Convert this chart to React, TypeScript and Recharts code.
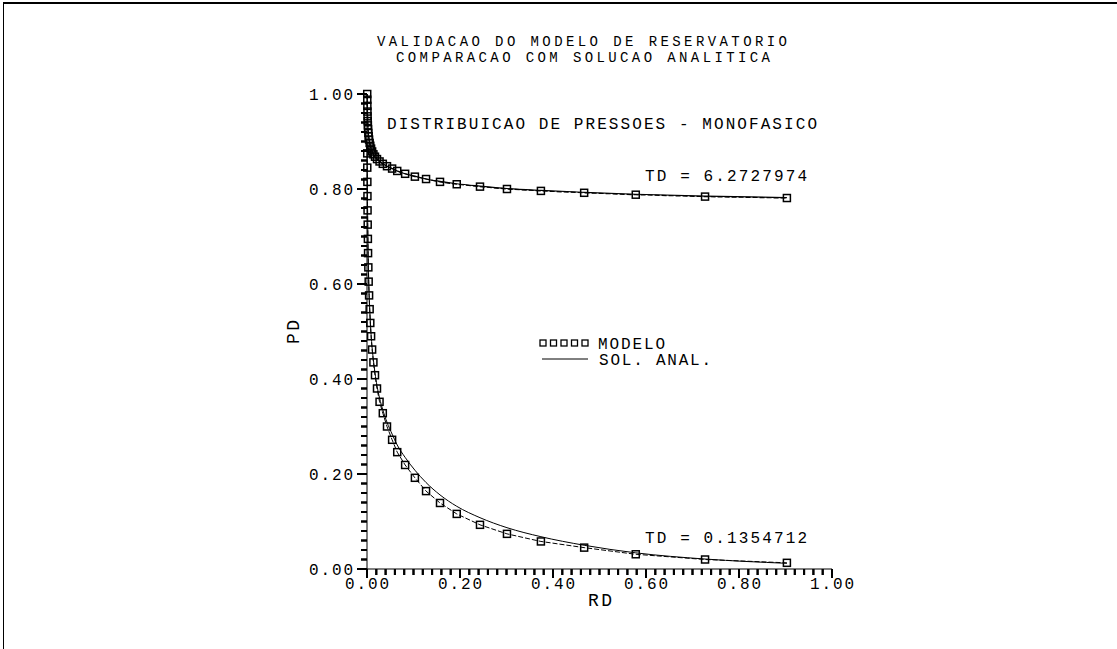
import { LineChart, Line, XAxis, YAxis } from 'recharts'

// radial grid of the model (RD)
const rdGrid = [
  0.0005, 0.00062, 0.00077, 0.00096, 0.0012, 0.0015, 0.0019, 0.0023, 0.0029,
  0.0036, 0.0045, 0.0057, 0.0071, 0.0088, 0.011, 0.0138, 0.0172, 0.0215, 0.027,
  0.034, 0.043, 0.054, 0.065, 0.082, 0.103, 0.127, 0.157, 0.193, 0.243, 0.301,
  0.374, 0.467, 0.578, 0.727, 0.903,
]

// TD = 6.2727974
const pdModeloTd6 = [
  1.0, 0.988, 0.975, 0.963, 0.953, 0.943, 0.934, 0.926, 0.918, 0.911, 0.904,
  0.897, 0.891, 0.885, 0.879, 0.873, 0.868, 0.863, 0.858, 0.853, 0.848, 0.843,
  0.838, 0.832, 0.826, 0.821, 0.815, 0.81, 0.805, 0.8, 0.796, 0.792, 0.788,
  0.784, 0.781,
]
const pdAnalTd6 = [
  1.0, 0.987, 0.974, 0.962, 0.952, 0.942, 0.933, 0.925, 0.917, 0.91, 0.903,
  0.897, 0.891, 0.885, 0.879, 0.873, 0.868, 0.863, 0.858, 0.853, 0.848, 0.843,
  0.838, 0.832, 0.827, 0.821, 0.816, 0.811, 0.806, 0.801, 0.797, 0.793, 0.789,
  0.785, 0.782,
]

// TD = 0.1354712
const pdModeloTd01 = [
  0.875, 0.845, 0.815, 0.785, 0.755, 0.725, 0.695, 0.665, 0.635, 0.605, 0.576,
  0.547, 0.518, 0.49, 0.462, 0.435, 0.408, 0.38, 0.352, 0.328, 0.3, 0.272,
  0.246, 0.219, 0.192, 0.164, 0.139, 0.116, 0.093, 0.074, 0.058, 0.045, 0.031,
  0.02, 0.013,
]
const pdAnalTd01 = [
  0.88, 0.85, 0.82, 0.79, 0.76, 0.73, 0.7, 0.67, 0.64, 0.61, 0.58, 0.551,
  0.522, 0.494, 0.466, 0.44, 0.413, 0.386, 0.36, 0.335, 0.309, 0.284, 0.261,
  0.235, 0.208, 0.182, 0.156, 0.132, 0.108, 0.087, 0.068, 0.05, 0.034, 0.021,
  0.012,
]

const majorTicks = [0, 0.2, 0.4, 0.6, 0.8, 1.0]
const minorTicks = Array.from({ length: 51 }, (_, i) => +(i * 0.02).toFixed(2))

const FONT = '"Liberation Mono", "DejaVu Sans Mono", monospace'
const FS = 16
const W = 1117
const H = 649

// plot box
const PL = 367
const PT = 94
const PW = 465
const PH = 475

const rows = (pd: number[]) => rdGrid.map((rd, i) => ({ rd, pd: pd[i] }))

const isMajor = (v: number) => majorTicks.some((m) => Math.abs(m - v) < 1e-6)

function XTick(props: any) {
  const { x, y, payload } = props
  const v = payload.value
  const major = isMajor(v)
  return (
    <g>
      <line x1={x} y1={y} x2={x} y2={y + (major ? 9 : 6)} stroke="#000" strokeWidth={2} />
      {major && (
        <text x={x} y={y + 20} textAnchor="middle" fontFamily={FONT} fontSize={FS} textLength={44} lengthAdjust="spacing" fill="#000">
          {v.toFixed(2)}
        </text>
      )}
    </g>
  )
}

function YTick(props: any) {
  const { x, y, payload } = props
  const v = payload.value
  const major = isMajor(v)
  return (
    <g>
      <line x1={x - (major ? 10 : 6)} y1={y} x2={x} y2={y} stroke="#000" strokeWidth={2} />
      {major && (
        <text x={x - 14} y={y + 6} textAnchor="end" fontFamily={FONT} fontSize={FS} textLength={44} lengthAdjust="spacing" fill="#000">
          {v.toFixed(2)}
        </text>
      )}
    </g>
  )
}

function Square(props: any) {
  const { cx, cy, index } = props
  return <rect key={`s${index}`} x={cx - 3.5} y={cy - 3.5} width={7} height={7} fill="none" stroke="#000" strokeWidth={1.5} />
}

function Txt({ x, y, len, children, anchor = 'start', rotate, size = FS }: any) {
  return (
    <text
      x={x}
      y={y}
      textAnchor={anchor}
      fontFamily={FONT}
      fontSize={size}
      textLength={len}
      lengthAdjust="spacing"
      fill="#000"
      transform={rotate ? `rotate(-90 ${x} ${y})` : undefined}
    >
      {children}
    </text>
  )
}

export default function App() {
  return (
    <div style={{ position: 'absolute', left: 0, top: 0, width: W, height: H, background: '#fff' }}>
      <div style={{ position: 'absolute', left: 3, top: 2, width: W - 3, height: H - 2, borderTop: '2px solid #000', borderLeft: '1px solid #000', boxSizing: 'border-box' }} />
      <LineChart width={W} height={H} margin={{ top: PT, right: W - PL - PW, bottom: H - PT - PH - 30, left: PL - 60 }}>
        <XAxis xAxisId="b" type="number" dataKey="rd" domain={[0, 1]} ticks={minorTicks} interval={0} tickSize={0} tickMargin={0} tickLine={false} height={30} stroke="#000" tick={(p: any) => <XTick {...p} />} />
        <XAxis xAxisId="t" orientation="top" type="number" dataKey="rd" domain={[0, 1]} height={0} tick={false} tickLine={false} stroke="#000" />
        <YAxis yAxisId="l" type="number" domain={[0, 1]} ticks={minorTicks} interval={0} tickSize={0} tickMargin={0} tickLine={false} width={60} stroke="#000" tick={(p: any) => <YTick {...p} />} />
        <YAxis yAxisId="r" orientation="right" type="number" domain={[0, 1]} width={0} tick={false} tickLine={false} stroke="#000" />
        <Line xAxisId="b" yAxisId="l" data={rows(pdAnalTd6)} dataKey="pd" type="monotone" stroke="#000" strokeWidth={1.2} dot={false} isAnimationActive={false} />
        <Line xAxisId="b" yAxisId="l" data={rows(pdAnalTd01)} dataKey="pd" type="monotone" stroke="#000" strokeWidth={1} dot={false} isAnimationActive={false} />
        <Line xAxisId="b" yAxisId="l" data={rows(pdModeloTd6)} dataKey="pd" type="linear" stroke="#000" strokeWidth={1.2} strokeDasharray="5 2" dot={(p: any) => <Square {...p} />} isAnimationActive={false} />
        <Line xAxisId="b" yAxisId="l" data={rows(pdModeloTd01)} dataKey="pd" type="linear" stroke="#000" strokeWidth={1} strokeDasharray="5 2" dot={(p: any) => <Square {...p} />} isAnimationActive={false} />
      </LineChart>
      <svg width={W} height={H} style={{ position: 'absolute', left: 0, top: 0, pointerEvents: 'none' }}>
        {/* axis tick comb along the bottom and left edges of the plot box */}
        {minorTicks.map((v) => (
          <path key={`xt${v}`} d={`M${PL + v * PW},${PT + PH} v${isMajor(v) ? 9 : 6}`} stroke="#000" strokeWidth={2} />
        ))}
        {minorTicks.map((v) => (
          <path key={`yt${v}`} d={`M${PL},${PT + PH - v * PH} h${isMajor(v) ? -10 : -6}`} stroke="#000" strokeWidth={2} />
        ))}
        <Txt x={582} y={46} len={410} anchor="middle" size={14}>VALIDACAO DO MODELO DE RESERVATORIO</Txt>
        <Txt x={583} y={62} len={374} anchor="middle" size={14}>COMPARACAO COM SOLUCAO ANALITICA</Txt>
        <Txt x={387} y={129} len={430}>DISTRIBUICAO DE PRESSOES - MONOFASICO</Txt>
        <Txt x={645} y={181} len={162}>TD = 6.2727974</Txt>
        <Txt x={645} y={543} len={162}>TD = 0.1354712</Txt>
        {/* legend */}
        {[0, 1, 2, 3, 4].map((i) => (
          <rect key={i} x={540 + i * 10.5} y={340} width={6} height={6} fill="none" stroke="#000" strokeWidth={1.3} />
        ))}
        <Txt x={598} y={349} len={67}>MODELO</Txt>
        <line x1={542} y1={359} x2={588} y2={359} stroke="#000" />
        <Txt x={599} y={365} len={112}>SOL. ANAL.</Txt>
        <Txt x={299} y={332} len={24} anchor="middle" rotate size={18}>PD</Txt>
        <Txt x={600} y={606} len={24} anchor="middle" size={18}>RD</Txt>
      </svg>
    </div>
  )
}
